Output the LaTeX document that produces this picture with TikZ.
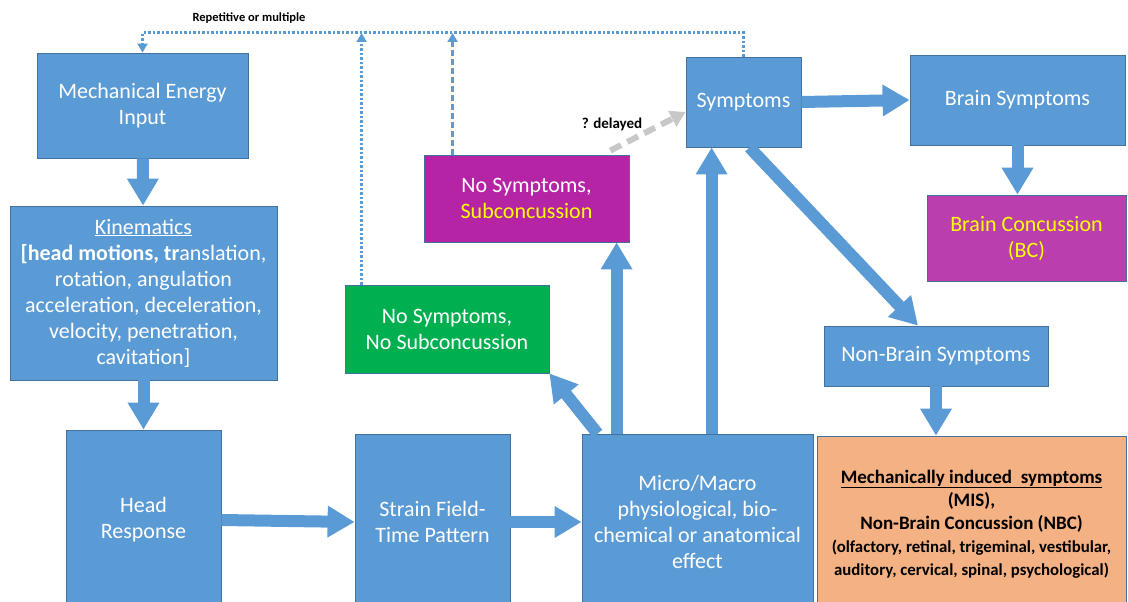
\documentclass[tikz,border=0pt]{standalone}
\usepackage{fontspec}
\setmainfont{Carlito}
\usetikzlibrary{arrows.meta}
\definecolor{boxblue}{RGB}{91,155,213}
\definecolor{edgeblue}{RGB}{65,113,156}
\definecolor{subpurple}{RGB}{181,36,164}
\definecolor{bcpurple}{RGB}{187,62,174}
\definecolor{okgreen}{RGB}{0,176,80}
\definecolor{mispeach}{RGB}{244,177,131}
\definecolor{delaygray}{RGB}{200,200,200}
\definecolor{hiyellow}{RGB}{255,255,0}
\tikzset{
  box/.style={draw=edgeblue, line width=0.8pt, fill=boxblue, text=white, align=center,
    inner sep=0pt, font=\fontsize{22}{26}\selectfont},
  blockarrow/.style={draw=boxblue, line width=12pt, -{Triangle[width=30pt,length=27pt]}},
  loopline/.style={draw=boxblue, line width=3pt, dash pattern=on 2.5pt off 2pt,
    -{Triangle[width=10pt,length=9pt]}},
  loopdash/.style={loopline, dash pattern=on 6pt off 3pt},
  delayarrow/.style={draw=delaygray, line width=6pt, dash pattern=on 12pt off 7pt,
    -{Triangle[width=17pt,length=15pt]}},
}

\begin{document}
\begin{tikzpicture}[x=1pt,y=-1pt]
  \useasboundingbox (0,0) rectangle (1128,602);
  \clip (0,0) rectangle (1128,602);

  % boxes
  \node[box, minimum width=211pt, minimum height=105pt] (mech) at (142.5,105.5) {Mechanical Energy\\Input};
  \node[box, minimum width=267pt, minimum height=174pt] (kin) at (143.5,293)
    {\underline{Kinematics}\\\textbf{[head motions, tr}anslation,\\rotation, angulation\\acceleration, deceleration,\\velocity, penetration,\\cavitation]};
  \node[box, minimum width=155pt, minimum height=180pt] (head) at (143.5,520) {Head\\Response};
  \node[box, minimum width=155pt, minimum height=176pt] (strain) at (432.5,522) {Strain Field-\\Time Pattern};
  \node[box, minimum width=231pt, minimum height=176pt] (micro) at (697.5,522)
    {Micro/Macro\\physiological, bio-\\chemical or anatomical\\effect};
  \node[box, fill=mispeach, text=black, minimum width=309pt, minimum height=176pt,
    font=\bfseries\fontsize{19}{23}\selectfont] (mis) at (971.5,524)
    {\underline{Mechanically induced\ \ symptoms}\\(MIS),\\Non-Brain Concussion (NBC)\\
     {\fontsize{16.8}{21}\selectfont (olfactory, retinal, trigeminal, vestibular,}\\
     {\fontsize{16.8}{21}\selectfont auditory, cervical, spinal, psychological)}};
  \node[box, fill=okgreen, minimum width=204pt, minimum height=88pt] (nosub) at (447,329)
    {No Symptoms,\\No Subconcussion};
  \node[box, fill=subpurple, minimum width=205pt, minimum height=87pt] (sub) at (526.5,198.5)
    {No Symptoms,\\\textcolor{hiyellow}{Subconcussion}};
  \node[box, minimum width=115pt, minimum height=90pt] (symp) at (743.5,102) {Symptoms};
  \node[box, minimum width=215pt, minimum height=90pt] (brain) at (1017.5,100) {Brain Symptoms};
  \node[box, fill=bcpurple, text=hiyellow, minimum width=199pt, minimum height=86pt] (bc) at (1026.5,238)
    {Brain Concussion\\(BC)};
  \node[box, minimum width=224pt, minimum height=60pt] (nonbrain) at (936,356) {Non-Brain Symptoms};

  % main flow
  \draw[blockarrow] (mech) -- (kin);
  \draw[blockarrow] (kin) -- (head);
  \draw[blockarrow] (head.east) -- (strain.west);
  \draw[blockarrow] (strain.east) -- (micro.west);
  \draw[blockarrow] ([xshift=16pt]micro.north west) -- (nosub.south east);
  \draw[blockarrow] ([xshift=35pt]micro.north west) -- ([xshift=35pt]micro.north west |- sub.south);
  \draw[blockarrow] ([xshift=130pt]micro.north west) -- ([xshift=130pt]micro.north west |- symp.south);
  \draw[blockarrow] (symp.east) -- (brain.west);
  \draw[blockarrow] ([xshift=6pt]symp.south) -- ([xshift=-18pt]nonbrain.north);
  \draw[blockarrow] (brain.south) -- (brain.south |- bc.north);
  \draw[blockarrow] (nonbrain.south) -- (nonbrain.south |- mis.north);

  % delayed
  \draw[delayarrow] ([xshift=-19pt,yshift=4pt]sub.north east) -- ([yshift=-10pt]symp.west);
  \node[font=\bfseries\fontsize{15}{17}\selectfont] (delay) at (612,124) {? delayed};

  % repetitive loop
  \coordinate (top) at (0,33);
  \draw[loopline] (symp.north) |- (mech.north |- top) -- (mech.north);
  \draw[loopline] ([xshift=17pt]nosub.north west) -- ([xshift=17pt]nosub.north west |- top);
  \draw[loopdash] ([xshift=29pt]sub.north west) -- ([xshift=29pt]sub.north west |- top);
  \node[font=\bfseries\fontsize{12.5}{14}\selectfont] (rep) at (249,18) {Repetitive or multiple};
\end{tikzpicture}
\end{document}
